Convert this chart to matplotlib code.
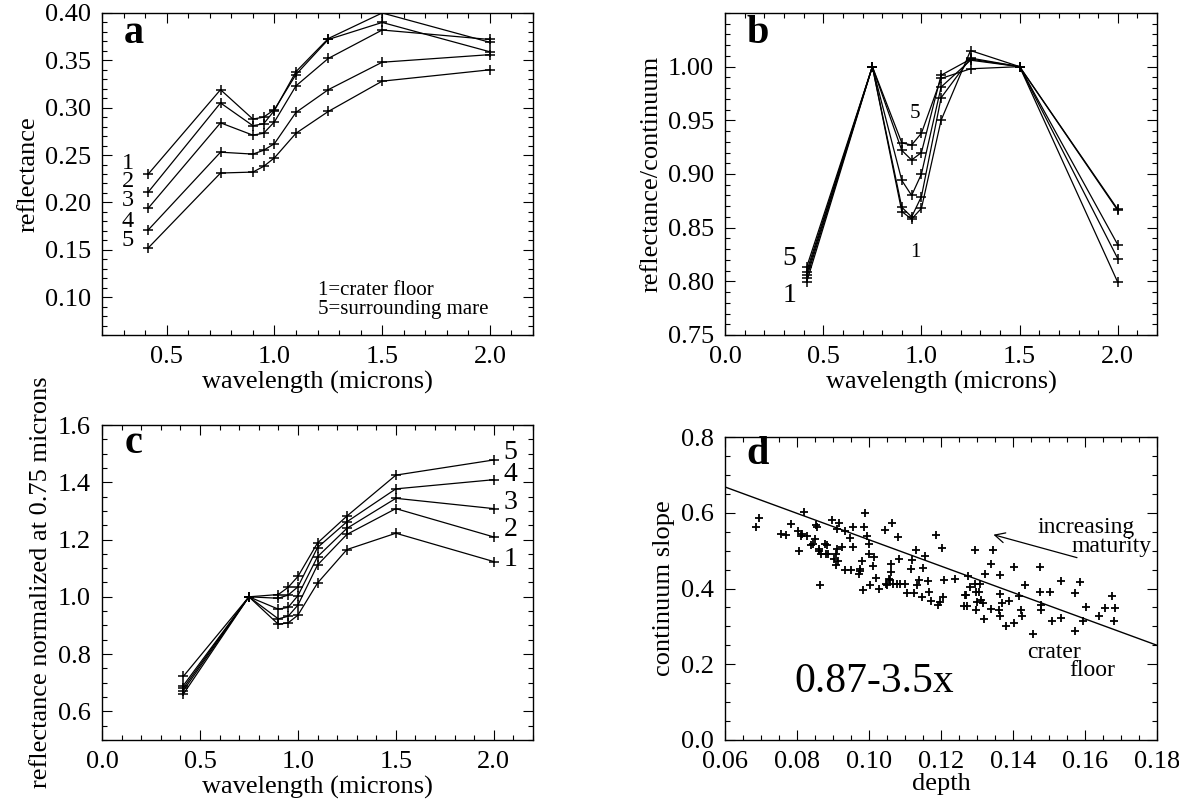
"""
Crater floor vs. surrounding mare spectra, 4 panels (a-d)
"""
import numpy as np
import matplotlib
matplotlib.use('Agg')
import matplotlib.pyplot as plt
from matplotlib.ticker import MultipleLocator, FormatStrFormatter

plt.rcParams['font.family'] = 'Liberation Serif'

# wavelengths (microns)
wavelength = [0.415, 0.75, 0.90, 0.95, 1.00, 1.10, 1.25, 1.50, 2.00]

# a: reflectance, series 1 (crater floor) .. 5 (surrounding mare)
refl_1 = [0.230, 0.319, 0.288, 0.290, 0.298, 0.335, 0.372, 0.390, 0.359]
refl_2 = [0.211, 0.305, 0.281, 0.283, 0.297, 0.338, 0.373, 0.400, 0.369]
refl_3 = [0.194, 0.284, 0.271, 0.273, 0.285, 0.323, 0.352, 0.382, 0.372]
refl_4 = [0.171, 0.253, 0.251, 0.255, 0.262, 0.295, 0.319, 0.348, 0.356]
refl_5 = [0.152, 0.231, 0.232, 0.238, 0.247, 0.273, 0.296, 0.328, 0.340]

# b: reflectance / continuum
cont_1 = [0.799, 1.0, 0.865, 0.858, 0.868, 0.950, 1.015, 1.0, 0.821]
cont_2 = [0.803, 1.0, 0.869, 0.860, 0.879, 0.971, 1.008, 1.0, 0.799]
cont_3 = [0.806, 1.0, 0.894, 0.880, 0.900, 0.981, 1.006, 1.0, 0.834]
cont_4 = [0.809, 1.0, 0.922, 0.913, 0.920, 0.992, 1.007, 1.0, 0.867]
cont_5 = [0.813, 1.0, 0.929, 0.927, 0.938, 0.989, 0.998, 1.0, 0.866]

# c: reflectance normalized at 0.75 microns
norm_1 = [0.722, 1.0, 0.904, 0.909, 0.936, 1.048, 1.165, 1.222, 1.123]
norm_2 = [0.690, 1.0, 0.923, 0.932, 0.971, 1.111, 1.218, 1.308, 1.209]
norm_3 = [0.681, 1.0, 0.957, 0.963, 1.004, 1.140, 1.239, 1.344, 1.308]
norm_4 = [0.672, 1.0, 0.995, 1.006, 1.035, 1.172, 1.262, 1.377, 1.409]
norm_5 = [0.660, 1.0, 1.008, 1.033, 1.071, 1.188, 1.282, 1.425, 1.478]

# d: continuum slope vs band depth
depth = [0.0686, 0.0695, 0.0754, 0.0770, 0.0783, 0.0802, 0.0805, 0.0810, 0.0814, 0.0820,
         0.0828, 0.0839, 0.0844, 0.0851, 0.0852, 0.0854, 0.0860, 0.0862, 0.0865, 0.0867,
         0.0877, 0.0879, 0.0884, 0.0886, 0.0898, 0.0902, 0.0907, 0.0909, 0.0910, 0.0912,
         0.0913, 0.0917, 0.0926, 0.0933, 0.0934, 0.0947, 0.0949, 0.0954, 0.0956, 0.0972,
         0.0974, 0.0976, 0.0980, 0.0982, 0.0986, 0.0989, 0.0993, 0.0999, 0.1001, 0.1003,
         0.1010, 0.1014, 0.1020, 0.1028, 0.1043, 0.1046, 0.1049, 0.1056, 0.1059, 0.1061,
         0.1062, 0.1064, 0.1066, 0.1077, 0.1080, 0.1083, 0.1085, 0.1101, 0.1104, 0.1117,
         0.1119, 0.1125, 0.1130, 0.1134, 0.1138, 0.1146, 0.1151, 0.1154, 0.1164, 0.1167,
         0.1172, 0.1185, 0.1191, 0.1196, 0.1203, 0.1209, 0.1206, 0.1238, 0.1264, 0.1266,
         0.1269, 0.1273, 0.1275, 0.1280, 0.1294, 0.1294, 0.1296, 0.1298, 0.1301, 0.1306,
         0.1309, 0.1312, 0.1317, 0.1319, 0.1322, 0.1338, 0.1340, 0.1343, 0.1361, 0.1364,
         0.1364, 0.1364, 0.1369, 0.1380, 0.1388, 0.1403, 0.1403, 0.1416, 0.1422, 0.1424,
         0.1434, 0.1455, 0.1476, 0.1476, 0.1478, 0.1478, 0.1503, 0.1508, 0.1532, 0.1534,
         0.1572, 0.1572, 0.1585, 0.1593, 0.1602, 0.1640, 0.1655, 0.1676, 0.1679, 0.1682]
slope = [0.562, 0.586, 0.543, 0.541, 0.570, 0.553, 0.498, 0.538, 0.543, 0.601,
         0.538, 0.515, 0.518, 0.532, 0.568, 0.562, 0.504, 0.498, 0.409, 0.492,
         0.517, 0.491, 0.515, 0.491, 0.581, 0.478, 0.463, 0.491, 0.558, 0.504,
         0.473, 0.573, 0.510, 0.551, 0.449, 0.534, 0.449, 0.562, 0.510, 0.439,
         0.446, 0.452, 0.473, 0.397, 0.562, 0.599, 0.538, 0.518, 0.491, 0.408,
         0.460, 0.484, 0.428, 0.400, 0.555, 0.413, 0.409, 0.426, 0.422, 0.465,
         0.443, 0.573, 0.411, 0.411, 0.536, 0.478, 0.411, 0.411, 0.387, 0.452,
         0.475, 0.387, 0.501, 0.409, 0.422, 0.378, 0.454, 0.486, 0.420, 0.391,
         0.368, 0.541, 0.357, 0.365, 0.508, 0.423, 0.378, 0.425, 0.354, 0.383,
         0.383, 0.354, 0.432, 0.404, 0.501, 0.413, 0.391, 0.342, 0.365, 0.391,
         0.411, 0.370, 0.363, 0.320, 0.439, 0.346, 0.465, 0.501, 0.344, 0.435,
         0.385, 0.328, 0.361, 0.301, 0.368, 0.458, 0.309, 0.380, 0.342, 0.328,
         0.409, 0.281, 0.458, 0.391, 0.357, 0.344, 0.391, 0.315, 0.322, 0.420,
         0.389, 0.288, 0.417, 0.314, 0.352, 0.327, 0.348, 0.380, 0.314, 0.348]

# fitted line 0.87-3.5x (end points as drawn)
fit_x = [0.06, 0.18]
fit_y = [0.668, 0.250]

TICK_FS = 19
LABEL_FS = 19


def style_axes(ax, xmaj, xmin, ymaj, ymin, xfmt, yfmt):
    ax.xaxis.set_major_locator(MultipleLocator(xmaj))
    ax.xaxis.set_minor_locator(MultipleLocator(xmin))
    ax.yaxis.set_major_locator(MultipleLocator(ymaj))
    ax.yaxis.set_minor_locator(MultipleLocator(ymin))
    ax.xaxis.set_major_formatter(FormatStrFormatter(xfmt))
    ax.yaxis.set_major_formatter(FormatStrFormatter(yfmt))
    ax.tick_params(which='both', direction='in', top=True, right=True,
                   width=0.8, labelsize=TICK_FS, pad=8)
    ax.tick_params(which='major', length=7)
    ax.tick_params(which='minor', length=3.5)
    for sp in ax.spines.values():
        sp.set_linewidth(1.0)


def plot_set(ax, series):
    for s in series:
        ax.plot(wavelength, s, '-', color='black', lw=0.9,
                marker='+', ms=7, mew=1.1)


fig = plt.figure(figsize=(11.79, 8.06), dpi=100)

# ---- a ----
ax_a = fig.add_axes([0.0865, 0.5844, 0.3656, 0.3995])
plot_set(ax_a, [refl_1, refl_2, refl_3, refl_4, refl_5])
ax_a.set_xlim(0.2, 2.2)
ax_a.set_ylim(0.06, 0.40)
style_axes(ax_a, 0.5, 0.1, 0.05, 0.01, '%.1f', '%.2f')
ax_a.set_yticks(np.arange(0.10, 0.401, 0.05))
ax_a.set_xlabel('wavelength (microns)', fontsize=LABEL_FS, labelpad=2)
ax_a.set_ylabel('reflectance', fontsize=LABEL_FS)
ax_a.text(0.30, 0.378, 'a', fontsize=29, fontweight='bold', ha='left', va='center')
for lab, yy in zip(['1', '2', '3', '4', '5'], [0.241, 0.222, 0.2025, 0.180, 0.160]):
    ax_a.text(0.32, yy, lab, fontsize=17.5, ha='center', va='center')
ax_a.text(1.20, 0.107, '1=crater floor', fontsize=15, ha='left', va='center')
ax_a.text(1.20, 0.087, '5=surrounding mare', fontsize=15, ha='left', va='center')

# ---- b ----
ax_b = fig.add_axes([0.615, 0.5844, 0.3664, 0.3995])
plot_set(ax_b, [cont_1, cont_2, cont_3, cont_4, cont_5])
ax_b.set_xlim(0.0, 2.2)
ax_b.set_ylim(0.75, 1.05)
style_axes(ax_b, 0.5, 0.1, 0.05, 0.01, '%.1f', '%.2f')
ax_b.set_yticks(np.arange(0.75, 1.001, 0.05))
ax_b.set_xlabel('wavelength (microns)', fontsize=LABEL_FS, labelpad=2)
ax_b.set_ylabel('reflectance/continuum', fontsize=LABEL_FS)
ax_b.text(0.11, 1.031, 'b', fontsize=29, fontweight='bold', ha='left', va='center')
ax_b.text(0.328, 0.821, '5', fontsize=20, ha='center', va='center')
ax_b.text(0.328, 0.787, '1', fontsize=20, ha='center', va='center')
ax_b.text(0.967, 0.956, '5', fontsize=15, ha='center', va='center')
ax_b.text(0.967, 0.827, '1', fontsize=15, ha='center', va='center')

# ---- c ----
ax_c = fig.add_axes([0.0865, 0.0819, 0.3656, 0.3908])
plot_set(ax_c, [norm_1, norm_2, norm_3, norm_4, norm_5])
ax_c.set_xlim(0.0, 2.2)
ax_c.set_ylim(0.5, 1.6)
style_axes(ax_c, 0.5, 0.1, 0.2, 0.05, '%.1f', '%.1f')
ax_c.set_yticks(np.arange(0.6, 1.601, 0.2))
ax_c.set_xlabel('wavelength (microns)', fontsize=LABEL_FS, labelpad=2)
ax_c.set_ylabel('reflectance normalized at 0.75 microns', fontsize=LABEL_FS)
ax_c.text(0.115, 1.535, 'c', fontsize=29, fontweight='bold', ha='left', va='center')
for lab, yy in zip(['5', '4', '3', '2', '1'], [1.505, 1.427, 1.330, 1.234, 1.131]):
    ax_c.text(2.05, yy, lab, fontsize=20, ha='left', va='center')

# ---- d ----
ax_d = fig.add_axes([0.615, 0.0819, 0.3664, 0.3759])
ax_d.plot(depth, slope, '+', color='black', ms=6, mew=1.3)
ax_d.plot(fit_x, fit_y, '-', color='black', lw=1.0)
ax_d.set_xlim(0.06, 0.18)
ax_d.set_ylim(0.0, 0.8)
style_axes(ax_d, 0.02, 0.005, 0.2, 0.05, '%.2f', '%.1f')
ax_d.set_xlabel('depth', fontsize=LABEL_FS, labelpad=0)
ax_d.set_ylabel('continuum slope', fontsize=LABEL_FS)
ax_d.text(0.066, 0.754, 'd', fontsize=29, fontweight='bold', ha='left', va='center')
ax_d.text(0.1737, 0.562, 'increasing', fontsize=17, ha='right', va='center')
ax_d.text(0.1786, 0.512, 'maturity', fontsize=17, ha='right', va='center')
ax_d.text(0.1514, 0.231, 'crater', fontsize=17, ha='center', va='center')
ax_d.text(0.1619, 0.184, 'floor', fontsize=17, ha='center', va='center')
ax_d.text(0.1014, 0.154, '0.87-3.5x', fontsize=30, ha='center', va='center')
ax_d.annotate('', xy=(0.1338, 0.544), xytext=(0.1585, 0.4795),
              arrowprops=dict(arrowstyle='->', color='black', lw=0.9,
                              mutation_scale=18))

fig.savefig('out.png', dpi=100, facecolor='white')
